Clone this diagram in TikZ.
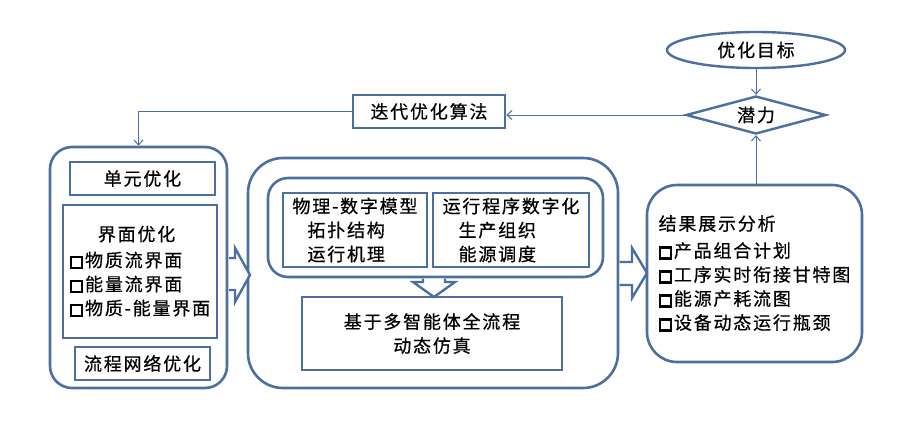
\documentclass[tikz,border=0pt]{standalone}
\usepackage{fontspec}
\setmainfont{Noto Sans CJK SC}[LetterSpace=10,FakeBold=0.6]
\usetikzlibrary{shapes.geometric,arrows.meta}
\definecolor{ln}{RGB}{74,111,160}
\newcommand{\chk}{{\setlength{\fboxrule}{2.4pt}\setlength{\fboxsep}{0pt}\fbox{\rule{0pt}{8.5pt}\rule{8.5pt}{0pt}}}\hspace{2pt}}
\begin{document}
\begin{tikzpicture}[x=1pt,y=-1pt,
  every node/.style={font=\fontsize{18}{24}\selectfont, text=black, inner sep=0pt},
  bigbox/.style={draw=ln, line width=2.6pt, fill=white, rounded corners=#1},
  rbox/.style={draw=ln, line width=2.2pt, fill=white},
  thinarr/.style={draw=ln, line width=1pt, -{Straight Barb[length=5pt,width=9pt]}},
  blk/.style={draw=ln, line width=2.4pt, fill=white, line join=miter}
]
\useasboundingbox (0,0) rectangle (912,429);
\fill[white] (0,0) rectangle (912,429);

% top right
\node[ellipse, draw=ln, line width=2.4pt, fill=white, minimum width=178pt, minimum height=36pt] (goal) at (756,50) {优化目标};
\node[diamond, draw=ln, line width=2.4pt, fill=white, minimum width=140pt, minimum height=38pt, aspect=3.7] (pot) at (756,115) {潜力};
\node[rbox, line width=2.6pt, minimum width=152pt, minimum height=33pt] (alg) at (429,111.5) {迭代优化算法};

% left box
\node[bigbox=22pt, minimum width=177pt, minimum height=241pt] (L) at (138.5,267.5) {};
\node[rbox, minimum width=145pt, minimum height=33pt] (unit) at (142.5,178.5) {单元优化};
\node[rbox, minimum width=154pt, minimum height=133pt, align=left] (iface) at (140,271.5)
  {\hspace*{28pt}界面优化\\[2pt]\chk 物质流界面\\\chk 能量流界面\\\chk 物质-能量界面};
\node[rbox, minimum width=135pt, minimum height=33pt] (net) at (142.5,363.5) {流程网络优化};

% center box
\node[bigbox=35pt, minimum width=370pt, minimum height=230pt] (C) at (433,273) {};
\node[bigbox=20pt, minimum width=335pt, minimum height=99pt] (Cin) at (435.5,227.5) {};
\node[rbox, line width=1.6pt, minimum width=144pt, minimum height=74pt, align=left] (phys) at (355,230)
  {物理-数字模型\\\hspace*{15pt}拓扑结构\\\hspace*{15pt}运行机理};
\node[rbox, line width=1.6pt, minimum width=156pt, minimum height=74pt, align=left] (proc) at (511,230)
  {运行程序数字化\\\hspace*{16pt}生产组织\\\hspace*{16pt}能源调度};
\node[rbox, line width=1.6pt, minimum width=260pt, minimum height=73pt, align=center] (sim) at (432,333.5)
  {基于多智能体全流程\\动态仿真};

% right box
\node[bigbox=30pt, minimum width=215pt, minimum height=177pt, align=left] (R) at (754.5,273.5)
  {结果展示分析\\[3pt]\chk 产品组合计划\\\chk 工序实时衔接甘特图\\\chk 能源产耗流图\\\chk 设备动态运行瓶颈};

% block arrows
\draw[blk] (229,258) -- (235,258) -- (235,248) -- (250,275) -- (235,302) -- (235,290) -- (229,290);
\draw[blk] (619.5,262) -- (632,262) -- (632,248) -- (647,273) -- (632,298) -- (632,285) -- (619.5,285);
\draw[blk] (423,278.5) -- (423,282) -- (413,282) -- (434,297) -- (455,282) -- (445,282) -- (445,278.5);

% thin connectors
\draw[thinarr] (goal.south) -- (pot.north);
\draw[thinarr] (pot.south |- R.north) -- (pot.south);
\draw[thinarr] (pot.west) -- (pot.west -| alg.east);
\draw[thinarr] (alg.west) -| (L.north);
\end{tikzpicture}
\end{document}
